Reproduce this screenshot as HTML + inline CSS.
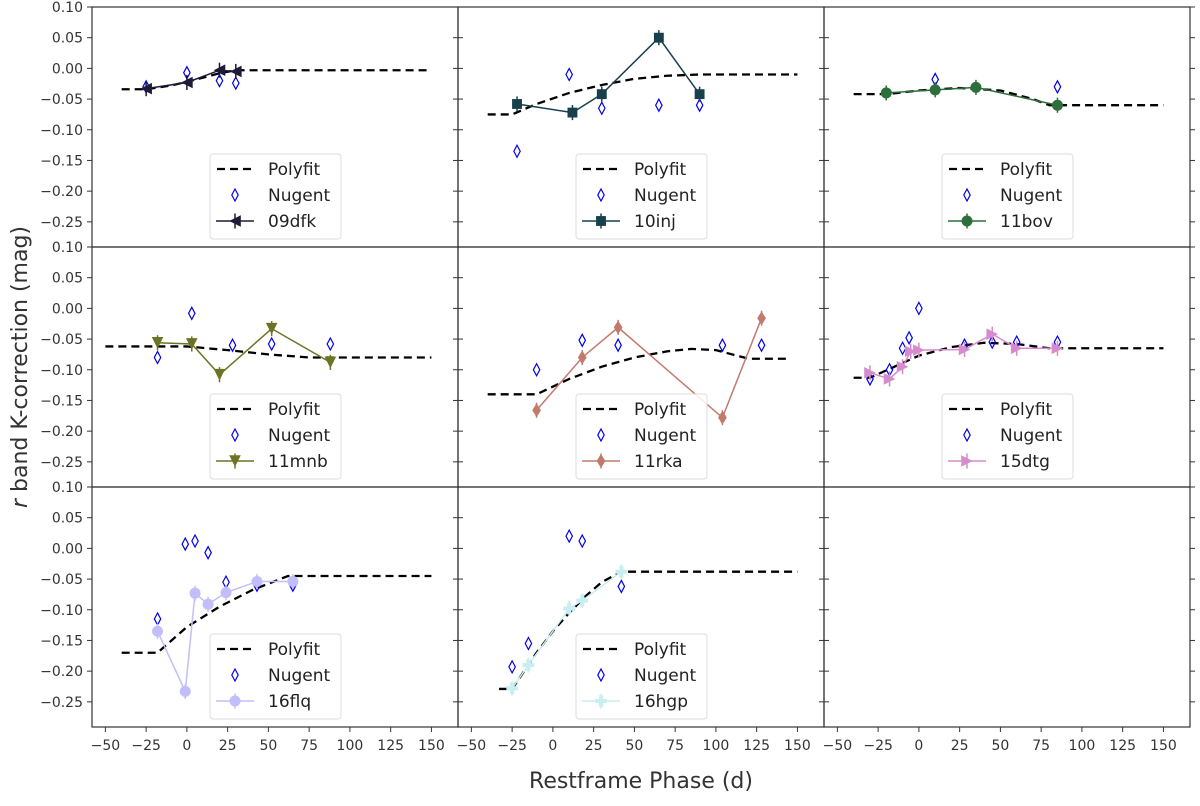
<!DOCTYPE html>
<html><head><meta charset="utf-8"><style>
body{margin:0;background:#fff;}
svg{font-family:"DejaVu Sans","Liberation Sans",sans-serif;}
</style></head><body>
<svg id="c" width="1200" height="801"></svg>
<script>
const names=["09dfk","10inj","11bov","11mnb","11rka","15dtg","16flq","16hgp"];
const colors=["#1e1a38","#17404c","#2e6e3a","#6c7424","#c27a6c","#d68ccc","#c2befa","#c8eef2"];
const markers=["tl","sq","ci","td","di","tr","ci","pl"];
const phases=[[-25,0,20,30],[-22,12,30,65,90],[-20,10,35,85],[-18,3,20,52,88],[-10,18,40,104,128],[-30,-18,-10,-5,0,28,45,60,85],[-18,-1,5,13,24,43,65],[-25,-15,10,18,42]];
const kcorr=[[-0.033,-0.023,-0.003,-0.005],[-0.058,-0.072,-0.042,0.05,-0.042],[-0.04,-0.035,-0.031,-0.06],[-0.056,-0.058,-0.108,-0.033,-0.088],[-0.166,-0.08,-0.031,-0.178,-0.016],[-0.105,-0.115,-0.095,-0.07,-0.068,-0.067,-0.042,-0.065,-0.065],[-0.135,-0.233,-0.073,-0.091,-0.072,-0.054,-0.054],[-0.228,-0.19,-0.098,-0.085,-0.038]];
const nugX=[[-25,0,20,30],[-22,10,30,65,90],[10,85],[-18,3,28,52,88],[-10,18,40,104,128],[-30,-18,-10,-6,0,28,45,60,85],[-18,-1,5,13,24,43,65],[-25,-15,10,18,42]];
const nugY=[[-0.03,-0.007,-0.02,-0.024],[-0.135,-0.01,-0.065,-0.06,-0.06],[-0.018,-0.03],[-0.08,-0.008,-0.06,-0.058,-0.058],[-0.1,-0.052,-0.06,-0.06,-0.06],[-0.115,-0.1,-0.065,-0.048,0,-0.06,-0.055,-0.055,-0.055],[-0.115,0.007,0.012,-0.007,-0.055,-0.06,-0.06],[-0.193,-0.155,0.02,0.012,-0.062]];
const polyX=[[-40,-25,-10,0,10,20,30,150],[-40,-25,-10,10,30,50,70,90,150],[-40,-20,0,25,50,70,80,150],[-50,0,25,50,75,150],[-40,-10,10,30,50,70,85,100,120,145],[-40,-30,-15,0,20,40,60,80,150],[-40,-18,0,20,40,62,150],[-33,-25,-10,0,10,20,30,42,150]];
const polyY=[[-0.034,-0.034,-0.028,-0.022,-0.015,-0.008,-0.003,-0.003],[-0.075,-0.075,-0.058,-0.04,-0.027,-0.017,-0.012,-0.01,-0.01],[-0.042,-0.042,-0.036,-0.032,-0.036,-0.05,-0.06,-0.06],[-0.062,-0.062,-0.068,-0.075,-0.08,-0.08],[-0.14,-0.14,-0.115,-0.095,-0.08,-0.07,-0.066,-0.068,-0.082,-0.082],[-0.113,-0.113,-0.095,-0.077,-0.063,-0.056,-0.058,-0.065,-0.065],[-0.17,-0.17,-0.128,-0.095,-0.068,-0.045,-0.045],[-0.229,-0.229,-0.17,-0.135,-0.105,-0.078,-0.055,-0.038,-0.038]];
const xTicks=[-50,-25,0,25,50,75,100,125,150];
const yTicks=[0.10,0.05,0.00,-0.05,-0.10,-0.15,-0.20,-0.25];

const NS="http://www.w3.org/2000/svg";
const svg=document.getElementById('c');
function mk(tag,attrs,parent){const e=document.createElementNS(NS,tag);for(const k in attrs)e.setAttribute(k,attrs[k]);(parent||svg).appendChild(e);return e;}
const colL=[92,458,824],colW=366,rowT=[7,247,487],rowH=240;
const XMIN=-58.2,XMAX=166.3,YMAX=0.10,YMIN=-0.291;
function fmt(v){const s=Math.abs(v).toFixed(2);return (v<-1e-9?"\u2212":"")+s;}
function drawMarker(g,type,x,y,col,s){
  let e;
  if(type==="ci")e=mk('circle',{cx:x,cy:y,r:s*0.95,fill:col},g);
  else if(type==="sq")e=mk('rect',{x:x-s*0.85,y:y-s*0.85,width:s*1.7,height:s*1.7,fill:col},g);
  else if(type==="di")e=mk('polygon',{points:`${x},${y-s*1.2} ${x+s*0.75},${y} ${x},${y+s*1.2} ${x-s*0.75},${y}`,fill:col},g);
  else if(type==="tl")e=mk('polygon',{points:`${x-s},${y} ${x+s},${y-s} ${x+s},${y+s}`,fill:col},g);
  else if(type==="tr")e=mk('polygon',{points:`${x+s},${y} ${x-s},${y-s} ${x-s},${y+s}`,fill:col},g);
  else if(type==="td")e=mk('polygon',{points:`${x},${y+s} ${x-s},${y-s} ${x+s},${y-s}`,fill:col},g);
  else e=mk('polygon',{points:`${x-0.35*s},${y-s} ${x+0.35*s},${y-s} ${x+0.35*s},${y-0.35*s} ${x+s},${y-0.35*s} ${x+s},${y+0.35*s} ${x+0.35*s},${y+0.35*s} ${x+0.35*s},${y+s} ${x-0.35*s},${y+s} ${x-0.35*s},${y+0.35*s} ${x-s},${y+0.35*s} ${x-s},${y-0.35*s} ${x-0.35*s},${y-0.35*s}`,fill:col},g);
  
  
  mk('line',{x1:x,x2:x,y1:y-s*1.3,y2:y+s*1.3,stroke:col,'stroke-width':1.5},g);
}
function nug(g,x,y){const e=mk('polygon',{points:`${x},${y-6} ${x+3.2},${y} ${x},${y+6} ${x-3.2},${y}`,fill:'none',stroke:'#0000ee','stroke-width':1.2},g);
  
  }

for(let p=0;p<9;p++){
  const c=p%3,r=Math.floor(p/3),L=colL[c],T=rowT[r];
  const g=mk('g',{});
  
  
  const sx=v=>L+(v-XMIN)/(XMAX-XMIN)*colW;
  const sy=v=>T+(YMAX-v)/(YMAX-YMIN)*rowH;
  yTicks.forEach(t=>{const y=sy(t);
    mk('line',{x1:L,x2:L-5,y1:y,y2:y,stroke:'#333','stroke-width':1},g);
    mk('line',{x1:L+colW,x2:L+colW+5,y1:y,y2:y,stroke:'#333','stroke-width':1},g);
    if(c===0){const tx=mk('text',{x:L-9,y:y+5,'text-anchor':'end','font-size':14,fill:'#333'},g);tx.textContent=fmt(t);
      
      }
  });
  if(r===2)xTicks.forEach(t=>{const x=sx(t);
    mk('line',{x1:x,x2:x,y1:T+rowH,y2:T+rowH+5,stroke:'#333','stroke-width':1},g);
    const tx=mk('text',{x:x,y:T+rowH+23,'text-anchor':'middle','font-size':14,fill:'#333'},g);tx.textContent=t<0?"\u2212"+(-t):String(t);
    
    
  });
  mk('rect',{x:L,y:T,width:colW,height:rowH,fill:'none',stroke:'#333','stroke-width':1.2},g);
  if(p>=8)continue;
  const pl=mk('polyline',{points:polyX[p].map((v,i)=>sx(v)+','+sy(polyY[p][i])).join(' '),fill:'none',stroke:'#000','stroke-width':2.3,'stroke-dasharray':'8,5'},g);
  
  
  nugX[p].forEach((v,i)=>nug(g,sx(v),sy(nugY[p][i])));
  const ln=mk('polyline',{points:phases[p].map((v,i)=>sx(v)+','+sy(kcorr[p][i])).join(' '),fill:'none',stroke:colors[p],'stroke-width':1.5},g);
  
  
  phases[p].forEach((v,i)=>drawMarker(g,markers[p],sx(v),sy(kcorr[p][i]),colors[p],5.8));
  const lx=L+118,ly=T+147;
  const lg=mk('g',{},g);
  
  
  mk('rect',{x:lx,y:ly,width:131,height:85,rx:3,fill:'#fff','fill-opacity':0.85,stroke:'#ddd'},lg);
  mk('line',{x1:lx+7,x2:lx+44,y1:ly+15,y2:ly+15,stroke:'#000','stroke-width':2.3,'stroke-dasharray':'8,5'},lg);
  nug(lg,lx+25,ly+41);
  mk('line',{x1:lx+6,x2:lx+44,y1:ly+67,y2:ly+67,stroke:colors[p],'stroke-width':1.5},lg);
  drawMarker(lg,markers[p],lx+25,ly+67,colors[p],5.8);
  [['Polyfit',21],['Nugent',47],[names[p],73]].forEach(([t,dy])=>{const tx=mk('text',{x:lx+58,y:ly+dy,'font-size':17,fill:'#222'},lg);tx.textContent=t;
    
    });
}
const xl=mk('text',{x:641,y:788,'text-anchor':'middle','font-size':22,fill:'#333'});xl.textContent='Restframe Phase (d)';


const yl=mk('text',{x:0,y:0,'text-anchor':'middle','font-size':22,fill:'#333',transform:'translate(27,367) rotate(-90)'});
yl.innerHTML='<tspan font-style="italic">r</tspan> band K-correction (mag)';


</script>
</body></html>
